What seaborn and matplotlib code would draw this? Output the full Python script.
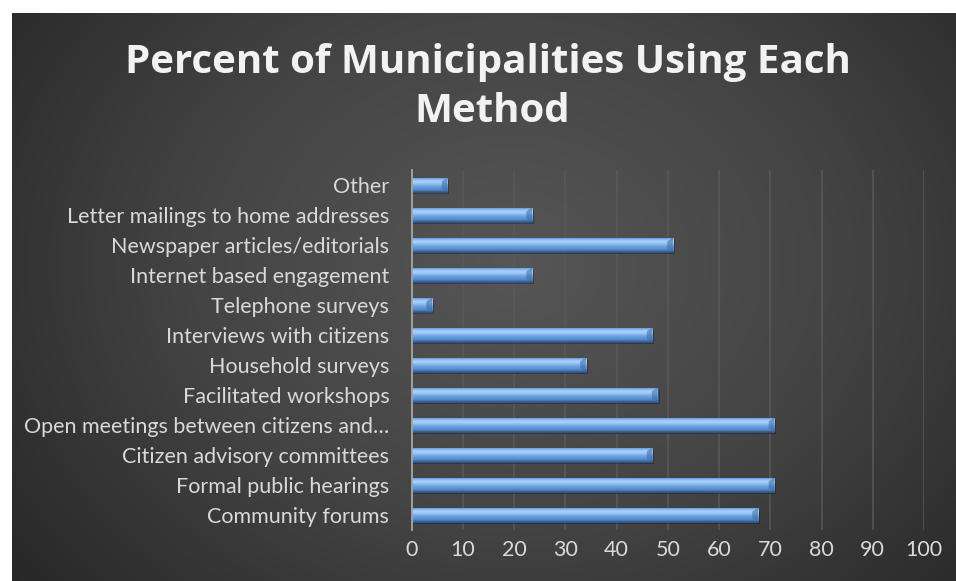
import numpy as np
import pandas as pd
import matplotlib
matplotlib.use("Agg")
import matplotlib.pyplot as plt
import seaborn as sns
from matplotlib.colors import LinearSegmentedColormap
from matplotlib.patches import Rectangle

categories = [
    "Other",
    "Letter mailings to home addresses",
    "Newspaper articles/editorials",
    "Internet based engagement",
    "Telephone surveys",
    "Interviews with citizens",
    "Household surveys",
    "Facilitated workshops",
    "Open meetings between citizens and\u2026",
    "Citizen advisory committees",
    "Formal public hearings",
    "Community forums",
]
values = [7, 23.5, 51, 23.5, 4, 47, 34, 48, 70.8, 47, 70.8, 67.6]
x_ticks = [0, 10, 20, 30, 40, 50, 60, 70, 80, 90, 100]
title_lines = ["Percent of Municipalities Using Each", "Method"]

df = pd.DataFrame({"method": categories, "pct": values})

sns.set_theme(style="dark")
plt.rcParams["font.family"] = ["Lato", "DejaVu Sans"]

W, H = 956, 581
fig = plt.figure(figsize=(W / 100, H / 100), dpi=100, facecolor="white")

# dark radial-gradient panel
bg = fig.add_axes([12 / W, 0, 1 - 12 / W, 1 - 13 / H], zorder=0)
bg.set_axis_off()
yy, xx = np.mgrid[0:H - 13, 0:W - 12]
cx, cy = 500, 250
d = np.sqrt(((xx - cx) / 640.0) ** 2 + ((yy - cy) / 520.0) ** 2)
d = np.clip(d, 0, 1)
bgcmap = LinearSegmentedColormap.from_list("bg", ["#565656", "#444444", "#272727"])
bg.imshow(d, cmap=bgcmap, vmin=0, vmax=1, aspect="auto", interpolation="bilinear")

ax_left, ax_right = 411.5 / W, 924 / W
ax_top, ax_bot = 1 - 170 / H, 1 - 530 / H
ax = fig.add_axes([ax_left, ax_bot, ax_right - ax_left, ax_top - ax_bot], zorder=1)
ax.set_facecolor("none")

sns.barplot(data=df, x="pct", y="method", orient="h", ax=ax, width=0.48,
            color="#6a9fdc", edgecolor="#2e5586", linewidth=0.8, zorder=3)

barcmap = LinearSegmentedColormap.from_list(
    "bar", [(0.0, "#4576b2"), (0.12, "#7fb3ee"), (0.3, "#acd3fa"),
            (0.45, "#92c1f2"), (0.6, "#6fa4e2"), (0.85, "#5489cb"), (1.0, "#36598b")])
grad = np.linspace(0, 1, 64).reshape(-1, 1)
for p in list(ax.patches):
    x0, y0, w, h = p.get_x(), p.get_y(), p.get_width(), p.get_height()
    # soft shadow
    ax.add_patch(Rectangle((x0, y0 + h * 0.15), w + 0.4, h, facecolor="black",
                           alpha=0.28, edgecolor="none", zorder=2))
    im = ax.imshow(grad, cmap=barcmap, extent=[x0, x0 + w, y0 + h, y0],
                   aspect="auto", zorder=3.5, interpolation="bilinear")
    im.set_clip_path(p)
    # bevel at right end
    cap = min(1.1, w * 0.3)
    ax.fill([x0 + w - cap, x0 + w, x0 + w, x0 + w - cap],
            [y0 + h * 0.25, y0, y0 + h, y0 + h * 0.75],
            color="#3d6aa3", alpha=0.55, zorder=3.6, linewidth=0)

ax.set_xlim(0, 100)
ax.set_ylim(len(categories) - 0.5, -0.5)
ax.set_xticks(x_ticks)
ax.set_xticklabels([str(t) for t in x_ticks])
ax.grid(axis="x", color="#595959", linewidth=1.1, zorder=0)
ax.grid(axis="y", visible=False)
ax.set_axisbelow(True)
for s in ["top", "right", "bottom"]:
    ax.spines[s].set_visible(False)
ax.spines["left"].set_visible(True)
ax.spines["left"].set_color("#a6a6a6")
ax.spines["left"].set_linewidth(1.3)
ax.spines["left"].set_zorder(5)
ax.set_xlabel("")
ax.set_ylabel("")
ax.tick_params(axis="y", length=0, pad=16, labelsize=15.5, labelcolor="#d9d9d9")
ax.tick_params(axis="x", length=0, pad=7, labelsize=15.5, labelcolor="#d9d9d9")

fig.text(488 / W, 1 - 62 / H, title_lines[0], family=["Open Sans", "DejaVu Sans"],
         ha="center", va="center", fontsize=29, fontweight="bold", color="#f2f2f2")
fig.text(492 / W, 1 - 112 / H, title_lines[1], family=["Open Sans", "DejaVu Sans"],
         ha="center", va="center", fontsize=29, fontweight="bold", color="#f2f2f2")

fig.savefig("out.png", dpi=100, facecolor="white")
